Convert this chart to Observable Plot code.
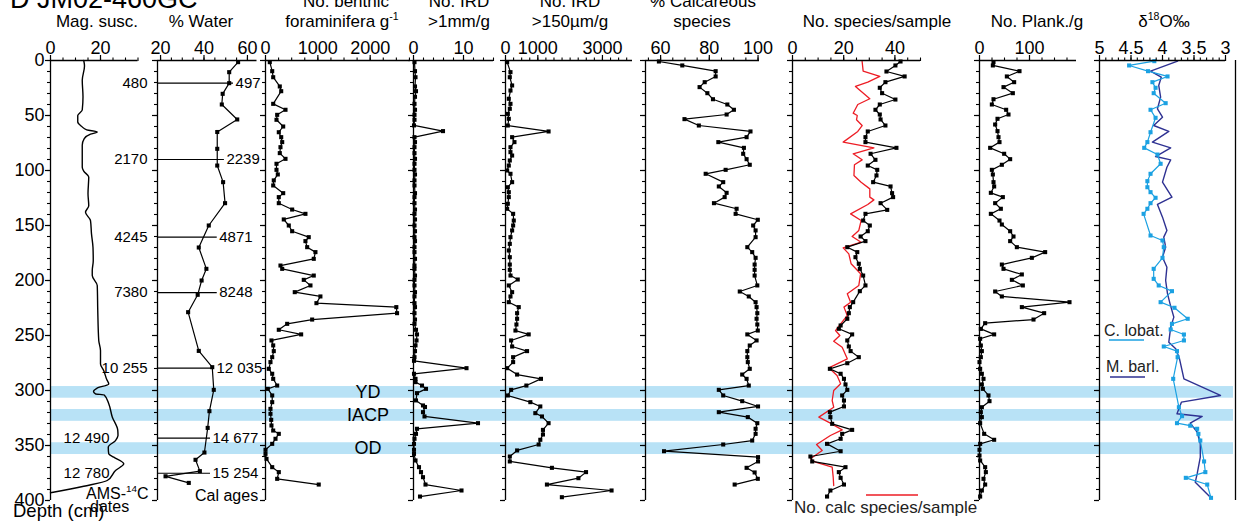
<!DOCTYPE html>
<html>
<head>
<meta charset="utf-8">
<script src="https://cdn.jsdelivr.net/npm/d3@7"></script>
<script src="https://cdn.jsdelivr.net/npm/@observablehq/plot@0.6"></script>
<style>
  html, body { margin: 0; padding: 0; background: #fff; }
  #figure { position: relative; width: 1239px; height: 531px; overflow: hidden; }
  #figure > svg { position: absolute; left: 0; top: 0; }
</style>
</head>
<body>
<div id="figure"></div>
<script>
// ---------------- core JM02-460GC down-core records (depth in cm) ----------------
const magDepth = [0, 5, 18, 33, 45, 50, 56, 60, 63, 65, 67, 71, 77, 97, 100.6, 106, 121, 132, 138, 145.5, 157.6, 170, 182, 191, 195.5, 204.5, 227, 254.5, 263.6, 275.8, 282, 290, 294, 298, 301, 303, 304, 312, 324, 336, 341, 345.5, 351.5, 357.6, 360.6, 366.7, 372.7, 381.8, 387, 393];
const magSusc = [13.3, 13.6, 12.7, 13.0, 12.7, 10.9, 10.9, 12.5, 14.5, 18.7, 16.0, 13.5, 12.7, 12.7, 13.3, 15.3, 15.0, 15.3, 14.0, 16.0, 16.4, 17.0, 17.1, 16.7, 16.7, 18.7, 18.9, 19.3, 20.0, 20.0, 21.3, 22.5, 23.3, 18.5, 17.2, 18.0, 21.5, 23.3, 24.7, 26.9, 27.0, 26.0, 23.1, 23.3, 25.3, 29.3, 26.0, 22.7, 13.3, 0];

const waterDepth = [1.5, 10.6, 20.6, 30.3, 40, 53.6, 65, 80.3, 95.5, 110.6, 129.7, 150, 170, 189.4, 200, 213, 228.8, 264, 278.8, 299.4, 318.8, 334, 356.4, 363, 373.3, 378, 384];
const waterPct = [55.7, 51.6, 51.6, 48.6, 48.2, 55.3, 46.1, 46.1, 46.1, 48.8, 49.7, 42.2, 37.6, 41.1, 38.9, 37.1, 32.7, 37.6, 43.8, 44.5, 42.5, 41.7, 40.2, 36.1, 38.1, 22.3, 33.0];

const benthicDepth = [1.5, 9.7, 15.2, 23.6, 27.9, 39.4, 44.8, 49.4, 53.9, 60, 65.2, 69.7, 74.2, 78.8, 84.2, 89.4, 93.9, 99.4, 103.6, 109, 113.6, 120.6, 124.2, 129.7, 135.5, 139.4, 144.5, 150, 155.2, 160.6, 164.2, 169.7, 174.2, 180.3, 186.4, 189.4, 195.5, 199.4, 204.5, 210.6, 214.5, 220.6, 224.2, 229.7, 235.5, 239.4, 244.8, 249, 254.5, 259, 264.2, 269.7, 274.2, 280.3, 284.8, 289.4, 295.5, 298.5, 304.5, 310.6, 316.7, 321.2, 326.7, 331.8, 336.4, 339.4, 343.9, 348.5, 353.9, 357.6, 362.1, 369.7, 374.2, 380.3, 385.5];
const benthicPerG = [82, 128, 147, 273, 300, 147, 382, 223, 210, 338, 254, 300, 319, 286, 273, 382, 210, 210, 235, 158, 147, 338, 254, 254, 509, 763, 349, 445, 509, 826, 763, 796, 954, 922, 286, 319, 922, 731, 859, 559, 1049, 973, 2499, 2513, 891, 414, 254, 681, 114, 147, 158, 128, 95, 63, 128, 147, 223, 44, 128, 128, 95, 95, 109, 114, 147, 254, 191, 128, 0, 0, 19, 128, 254, 223, 1017];

const ird1Depth = [1.5, 9.7, 15.2, 23.6, 27.9, 33, 39.4, 44.8, 49.4, 53.9, 59, 64.2, 69.7, 74.2, 78.8, 84.2, 89.4, 93.9, 99.4, 103.6, 109, 113.6, 120.6, 124.2, 129.7, 135.5, 139.4, 144.5, 150, 155.2, 160.6, 164.2, 169.7, 174.2, 180.3, 186.4, 189.4, 195.5, 199.4, 204.5, 210.6, 214.5, 220.6, 224.2, 229.7, 235.5, 239.4, 244.8, 249, 254.5, 259, 264.2, 269.7, 273, 279.7, 284.8, 289.4, 292.4, 295.5, 298.5, 302.4, 309, 313.6, 315, 319.7, 323.6, 329.7, 334.8, 339.4, 343.9, 348.5, 353.9, 357.6, 363.6, 369.7, 374.2, 378.8, 385.5, 390.9, 396.4];
const ird1PerG = [0.2, 0.3, 0.4, 0.3, 0.5, 0.3, 0.2, 0.3, 0.2, 0.2, 0.1, 5.9, 0.2, 0.3, 0.2, 0.2, 0.3, 0.2, 0.2, 0.3, 0.2, 0.2, 0.3, 0.2, 0.2, 0.3, 0.2, 0.3, 0.2, 0.3, 0.2, 0.3, 0.2, 0.2, 0.3, 0.2, 0.2, 0.3, 0.2, 0.2, 0.3, 0.2, 0.2, 0.3, 0.2, 0.3, 0.2, 0.5, 0.7, 0.6, 0.4, 0.3, 0.2, 0.1, 10.6, 0.1, 0.4, 0.4, 1.7, 2.5, 0.7, 0.5, 1.9, 2.3, 1.9, 2.2, 12.9, 0.7, 0.5, 0.2, 0.1, 0.1, 0.1, 0.4, 1.1, 1.5, 1.9, 2.4, 9.6, 1.3];

const ird150Depth = [1.5, 10.6, 15.2, 22.7, 27.3, 34.8, 39.4, 43.9, 48.5, 53, 59.1, 64.5, 69.7, 74.2, 78.8, 83.3, 86.4, 90.9, 95.5, 100, 103, 110.6, 115.2, 119.7, 124.2, 130.3, 134.8, 139.4, 145.5, 150, 154.5, 160.6, 166.7, 172.7, 178.8, 185.5, 190.3, 195.5, 199.1, 204.5, 210.6, 214.5, 219.7, 224.2, 229.7, 234.8, 240, 245.5, 249, 254.5, 260, 264.2, 269.7, 274.2, 279.7, 285.5, 289.4, 295.5, 299.4, 304.5, 310.6, 314.5, 320.6, 323.6, 329.7, 335.8, 340, 344.8, 349.1, 354.5, 360, 364.5, 370.3, 374.2, 379.7, 385.5, 390.9, 397];
const ird150PerG = [51, 154, 133, 205, 154, 102, 154, 133, 72, 102, 72, 1333, 205, 277, 154, 154, 205, 133, 102, 51, 154, 205, 72, 102, 102, 72, 51, 236, 256, 236, 205, 154, 133, 102, 133, 133, 133, 154, 379, 102, 205, 154, 102, 410, 359, 359, 338, 308, 718, 174, 205, 667, 236, 236, 51, 359, 1097, 646, 174, 72, 769, 1077, 923, 1128, 1333, 1159, 1159, 1077, 1026, 359, 133, 133, 1436, 2492, 2256, 1282, 3282, 1744];

const calcDepth = [0.9, 4.5, 9.7, 14.5, 19.7, 24.2, 29.7, 35.2, 40, 44.8, 49.1, 53.3, 59.1, 64.5, 69.7, 74.2, 79.4, 84.8, 89.7, 94.8, 99.4, 103, 110.6, 114.5, 120.3, 124.2, 129.7, 134.8, 139.4, 144.8, 150, 154.5, 160.6, 169.7, 174.2, 179.4, 185.5, 190.3, 195.5, 204.5, 210, 214.5, 219.7, 224.2, 229.7, 234.8, 240, 245.5, 249, 254.5, 259.1, 264.2, 269.7, 274.2, 280.3, 285.5, 289.4, 295.5, 299.4, 304.5, 309.7, 314.5, 319.7, 324.2, 329.7, 334.8, 339.4, 345.5, 349.1, 355.2, 360.6, 364.5, 370.3, 374.5, 380.3, 385.5];
const calcPct = [59.3, 68.9, 82.6, 82.6, 78.1, 76.0, 79.2, 81.5, 87.4, 90.1, 87.1, 69.8, 75.7, 96.9, 95.3, 83.7, 94.2, 93.9, 95.3, 96.6, 86.7, 78.5, 85.7, 83.9, 87.1, 86.3, 81.9, 91.2, 90.8, 99.9, 98.0, 99.0, 99.0, 95.6, 97.6, 99.0, 98.6, 98.6, 98.6, 99.7, 92.5, 96.2, 99.0, 99.4, 99.7, 99.4, 99.7, 99.9, 95.6, 99.4, 96.6, 95.6, 95.6, 95.8, 96.6, 93.5, 95.3, 96.2, 83.9, 85.7, 93.5, 100, 83.9, 95.8, 99.7, 99.0, 99.0, 97.6, 85.7, 61.4, 100, 100, 95.3, 98.6, 99.9, 90.4];

const speciesDepth = [0.9, 4.5, 10, 14.5, 19.7, 24.8, 29.7, 35.5, 40, 44.8, 49.1, 53.6, 59.1, 64.5, 69.7, 74.2, 79.4, 84.8, 90.3, 95.5, 99.4, 104.5, 110.6, 114.5, 120.6, 124.2, 129.7, 135.8, 139.4, 145.5, 150, 155.2, 160, 164.2, 169.7, 174.2, 178.8, 184.8, 189.4, 195.5, 204.5, 209.7, 219.7, 224.2, 229.7, 234.8, 240.9, 243.9, 249, 254.5, 260, 264.2, 269.7, 275.2, 280.3, 284.8, 289.4, 294.5, 299.4, 304.5, 309.1, 314.5, 319.7, 324.2, 330.3, 335.8, 339.4, 343.9, 348.5, 355.2, 360, 364.5, 369.7, 374.2, 379.4, 385.5, 390.9, 396.4];
const speciesCount = [42.2, 40.2, 36.7, 43.8, 36.3, 34.1, 35.0, 40.2, 34.1, 32.4, 34.1, 34.4, 36.3, 29.4, 28.5, 28.5, 40.6, 30.5, 32.4, 29.4, 33.1, 32.8, 31.5, 38.3, 38.9, 39.3, 34.4, 37.0, 28.5, 27.6, 30.2, 29.4, 26.6, 28.5, 21.4, 25.3, 24.6, 25.9, 26.3, 27.6, 28.5, 26.3, 23.7, 22.4, 22.0, 21.4, 18.8, 18.1, 23.3, 21.4, 22.0, 22.7, 25.9, 21.4, 14.6, 18.8, 20.1, 20.7, 21.4, 19.4, 20.1, 20.1, 14.6, 14.8, 15.5, 23.3, 19.4, 18.8, 13.5, 18.8, 7.0, 7.7, 20.7, 18.1, 18.8, 20.1, 14.8, 13.5];

const calcSpDepth = [0.9, 9.7, 14.5, 19.7, 23.6, 34.8, 40, 47.9, 50, 53.9, 59.1, 64.5, 74.2, 79.4, 84.8, 90.3, 94.8, 104.5, 110.6, 116.7, 124.2, 126.7, 130.9, 139.4, 145.5, 154.5, 160, 165.2, 170.3, 175.8, 184.8, 193.9, 204.5, 212.1, 219.7, 224.2, 231.8, 239.4, 245.5, 250, 255.2, 260.6, 271.2, 279.4, 286.4, 293.9, 300, 309.1, 315.2, 324.2, 329.7, 335.8, 340.9, 349.1, 354.5, 362.1, 365.2, 369.7, 378.8, 386.4];
const calcSpCount = [27.2, 27.6, 34.1, 29.4, 24.6, 30.2, 25.5, 23.7, 25.3, 25.0, 27.2, 25.5, 19.8, 31.8, 23.7, 27.2, 24.2, 24.0, 26.8, 30.2, 30.2, 31.8, 29.4, 22.7, 26.8, 25.9, 23.3, 26.8, 19.8, 22.0, 22.9, 26.6, 25.9, 21.4, 22.7, 20.1, 21.4, 18.8, 16.8, 18.5, 16.1, 19.4, 21.4, 14.2, 17.4, 18.8, 16.1, 15.5, 16.1, 10.3, 14.8, 19.4, 14.8, 9.4, 11.6, 7.0, 9.0, 15.5, 15.9, 16.1];

const plankDepth = [1.5, 4.5, 9.7, 14.5, 19.7, 24.2, 29.7, 35.2, 40, 44.8, 49.1, 53, 58.2, 64.2, 69.7, 74.2, 79.4, 84.8, 89.7, 94.8, 99.4, 103.6, 110.6, 114.5, 120.3, 124.2, 129.7, 134.8, 139.4, 145.5, 149.1, 155.2, 160, 164.2, 169.7, 174.2, 179.4, 185.5, 189.4, 194.5, 199.4, 204.5, 210, 214.5, 219.7, 224.2, 229.7, 235.5, 238.8, 244, 249, 253, 259.1, 264.2, 269.7, 274.2, 280.3, 284.8, 289.4, 294.5, 298.5, 304.5, 309.7, 315.2, 319.7, 324.2, 329.7, 339.4, 344.8, 348.5, 353.9, 359.1, 363.6, 369.7, 374.2, 380.3, 385.5, 390.9, 396.4];
const plankPerG = [28, 26.7, 80, 54.7, 69.3, 48, 66.7, 28, 24.7, 53.3, 58, 36, 31.3, 36, 38, 40, 21.3, 49.3, 61.3, 44.7, 24.7, 26.7, 28, 29.3, 22.7, 46.7, 31.3, 42.7, 22.7, 40, 44.7, 61.3, 68, 61.3, 74.7, 131.3, 104.7, 44.7, 48, 84.7, 64.7, 86.7, 31.3, 44.7, 180, 84.7, 129.3, 108, 11.3, 2.7, 29.3, 1.3, 2.7, 4.7, 2.7, 0, 1.3, 4.7, 8, 4.7, 6.7, 18, 20, 4.7, 2.7, 4.7, 1.3, 9.3, 29.3, 1.3, 0, 0, 1.3, 11.3, 12.7, 8, 11.3, 4.7, 1.3];

const lobatDepth = [0.6, 4.5, 9.7, 14.5, 19.7, 24.8, 29.7, 38.8, 44.8, 52.1, 65.2, 74.2, 79.4, 85.5, 93.9, 103, 109.7, 115.2, 119.7, 124.8, 129.7, 134.8, 139.4, 159.1, 163.6, 169.7, 179.4, 189.4, 198.5, 204.5, 209.7, 219.7, 224.8, 234.8, 239.4, 244.5, 249.1, 254.5, 260, 264.2, 269.7, 289.4, 315.2, 323.3, 329.7, 332, 334.8, 339.4, 345.5, 364.5, 374.2, 379.4, 385.5, 397.6];
const lobatD18O = [4.13, 4.53, 4.23, 3.92, 4.16, 4.11, 4.14, 3.95, 4.19, 4.11, 4.19, 4.24, 4.29, 4.08, 4.03, 4.19, 4.24, 4.24, 4.19, 4.11, 4.19, 4.24, 4.30, 4.19, 4.00, 3.98, 4.00, 4.14, 4.14, 4.06, 3.85, 4.03, 3.81, 3.60, 3.85, 3.87, 3.66, 3.66, 3.98, 3.77, 3.76, 3.83, 3.74, 3.69, 3.77, 3.56, 3.45, 3.43, 3.40, 3.34, 3.32, 3.63, 3.29, 3.23];

const barlDepth = [0.6, 9.7, 15.2, 22.7, 33.3, 43.9, 51.5, 59.1, 64.5, 74.2, 79.4, 87.3, 90.3, 97, 110.6, 124.2, 130.9, 142.4, 154.5, 160.6, 169.7, 178.8, 187.9, 200, 212.1, 221.2, 233.3, 242.4, 256.1, 262.1, 271.2, 289.4, 304.5, 310.6, 321.2, 323.6, 329.7, 337.9, 348.5, 360.6, 375.8, 383.3, 397];
const barlD18O = [3.76, 4.19, 4.02, 4.06, 4.03, 4.08, 4.00, 4.14, 3.90, 4.16, 3.87, 4.11, 3.87, 3.93, 4.00, 3.85, 4.08, 4.00, 3.93, 3.98, 3.95, 4.00, 3.93, 3.95, 3.92, 3.88, 3.82, 3.87, 3.90, 3.79, 3.73, 3.66, 3.08, 3.70, 3.77, 3.37, 3.56, 3.45, 3.40, 3.40, 3.45, 3.48, 3.24];

// radiocarbon dates and their calibrated ages
const dateDepth = [20.6, 90, 160.6, 211, 279.7, 343.3, 375.2];
const amsAge = ["480", "2170", "4245", "7380", "10 255", "12 490", "12 780"];
const calAge = ["497", "2239", "4871", "8248", "12 035", "14 677", "15 254"];

// cold events
const eventName = ["YD", "IACP", "OD"];
const eventTop = [296.4, 317.3, 347.5];
const eventBottom = [307, 328, 358.2];

// ---------------- layout ----------------
const W = 1239, H = 531, TOP = 60, BOTTOM = 500;
const FONT = '"Liberation Sans", Arial, Helvetica, sans-serif';
const BAND = "#b8e2f6", RED = "#ed1c24", CYAN = "#1ba1e2", NAVY = "#2e3192";
const depthMajor = d3.range(0, 401, 50);
const depthMinor = d3.range(0, 401, 10);
const leaderEnd = [53.6, 49.4, 46.1, 46.1, 44.8, 43.0, 43.0]; // % water units where each leader stops

const table = (depth, value) => depth.map((d, i) => ({depth: d, value: value[i]}));
const mag = table(magDepth, magSusc);
const water = table(waterDepth, waterPct);
const benthic = table(benthicDepth, benthicPerG);
const ird1 = table(ird1Depth, ird1PerG);
const ird150 = table(ird150Depth, ird150PerG);
const calc = table(calcDepth, calcPct);
const species = table(speciesDepth, speciesCount);
const calcSpecies = table(calcSpDepth, calcSpCount);
const plank = table(plankDepth, plankPerG);
const lobat = table(lobatDepth, lobatD18O);
const barl = table(barlDepth, barlD18O);
const dates = dateDepth.map((d, i) => ({depth: d, ams: amsAge[i], cal: calAge[i], end: leaderEnd[i]}));
const events = eventName.map((n, i) => ({name: n, top: eventTop[i], bottom: eventBottom[i]}));

const fig = document.getElementById("figure");

function panel(cfg, marks, yLabels = false) {
  return Plot.plot({
    width: W, height: H,
    marginLeft: cfg.left, marginRight: W - cfg.right, marginTop: TOP, marginBottom: H - BOTTOM,
    style: {background: "transparent", overflow: "visible", fontFamily: FONT, color: "#000"},
    x: {domain: cfg.domain, axis: null},
    y: {domain: [0, 400], reverse: true, axis: null},
    marks: [
      ...marks,
      Plot.axisX(cfg.minor, {anchor: "top", tickSize: 3.5, strokeWidth: 1.1, tickFormat: () => "", label: null}),
      Plot.axisX(cfg.major, {anchor: "top", tickSize: 6, tickPadding: 1, strokeWidth: 1.2, fontSize: 18, tickFormat: String, label: null}),
      Plot.axisY(depthMinor, {anchor: "left", tickSize: 3, strokeWidth: 1.1, tickFormat: () => "", label: null}),
      Plot.axisY(depthMajor, {anchor: "left", tickSize: 5, tickPadding: 1, strokeWidth: 1.2, fontSize: 18, tickFormat: yLabels ? String : () => "", label: null}),
      Plot.ruleY([0], {strokeWidth: 1.3}),
      Plot.ruleX([cfg.domain[0]], {strokeWidth: 1.3})
    ]
  });
}

const lineDots = (data, color = "black") => [
  Plot.line(data, {x: "value", y: "depth", stroke: color, strokeWidth: 1.2}),
  Plot.dot(data, {x: "value", y: "depth", symbol: "square", r: 2.3, fill: color, stroke: "none"})
];

// cold-event bands behind every panel
const bandPlot = Plot.plot({
  width: W, height: H, marginLeft: 50, marginRight: W - 1233, marginTop: TOP, marginBottom: H - BOTTOM,
  style: {background: "transparent", overflow: "visible"},
  y: {domain: [0, 400], reverse: true, axis: null},
  marks: [Plot.rect(events, {y1: "top", y2: "bottom", fill: BAND})]
});
fig.append(bandPlot);

const waterCfg = {left: 157, right: 256.5, domain: [18.6, 64.4], major: [20, 40, 60], minor: d3.range(20, 61, 5)};

const plots = [
  panel({left: 50, right: 137.5, domain: [0, 35], major: [0, 20], minor: d3.range(0, 36, 5)},
    [Plot.line(mag, {x: "value", y: "depth", curve: "monotone-y", stroke: "black", strokeWidth: 1.4})], true),
  panel(waterCfg, [
    Plot.ruleY(dates, {y: "depth", x1: waterCfg.domain[0], x2: "end", stroke: "black", strokeWidth: 1.1}),
    ...lineDots(water),
    Plot.text(dates, {y: "depth", x: "end", text: "cal", textAnchor: "start", dx: 2, fontSize: 15}),
    Plot.text(dates.slice(0, 5), {y: "depth", x: waterCfg.domain[0], text: "ams", textAnchor: "end", dx: -10, fontSize: 15}),
    Plot.text(dates.slice(5), {y: "depth", x: waterCfg.domain[0], text: "ams", textAnchor: "end", dx: -48, fontSize: 15})
  ]),
  panel({left: 265, right: 410, domain: [0, 2770], major: [0, 1000, 2000], minor: d3.range(0, 2770, 250)}, lineDots(benthic)),
  panel({left: 413, right: 493, domain: [0, 16], major: [0, 10], minor: d3.range(0, 17, 2)}, lineDots(ird1)),
  panel({left: 505, right: 632, domain: [0, 3930], major: [0, 1000, 3000], minor: d3.range(0, 3930, 250)}, lineDots(ird150)),
  panel({left: 645, right: 759, domain: [53.8, 100.6], major: [60, 80, 100], minor: d3.range(55, 101, 5)}, lineDots(calc)),
  panel({left: 792, right: 920, domain: [0, 50], major: [0, 20, 40], minor: d3.range(0, 51, 5)}, [
    Plot.line(calcSpecies, {x: "value", y: "depth", stroke: RED, strokeWidth: 1.3}),
    ...lineDots(species)
  ]),
  panel({left: 979, right: 1076, domain: [0, 194], major: [0, 100], minor: d3.range(0, 194, 25)}, lineDots(plank)),
  panel({left: 1099, right: 1225, domain: [5, 3], major: [5, 4.5, 4, 3.5, 3], minor: d3.range(30, 51).map(d => d / 10)}, [
    Plot.line(barl, {x: "value", y: "depth", stroke: NAVY, strokeWidth: 1.4}),
    ...lineDots(lobat, CYAN),
    Plot.ruleX([3], {dx: 10, strokeWidth: 1.3})
  ])
];
plots.forEach(p => fig.append(p));

// ---------------- titles, labels and legends ----------------
const yDepth = bandPlot.scale("y");
const svg = d3.create("svg").attr("width", W).attr("height", H)
  .attr("font-family", FONT).style("overflow", "visible");

function label(x, y, parts, size = 17, anchor = "middle", fill = "#000") {
  const t = svg.append("text").attr("x", x).attr("y", y).attr("font-size", size)
    .attr("text-anchor", anchor).attr("fill", fill);
  const shift = size * 0.42;
  let raised = false;
  for (const p of parts) {
    if (typeof p === "string") {
      const s = t.append("tspan").text(p);
      if (raised) { s.attr("dy", shift); raised = false; }
    } else {
      t.append("tspan").text(p.sup).attr("font-size", size * 0.62).attr("dy", -shift);
      raised = true;
    }
  }
  return t;
}

label(10, 8, ["D JM02-460GC"], 27, "start");
label(97, 27, ["Mag. susc."]);
label(201, 27, ["% Water"]);
label(346, 7, ["No. benthic"]);
label(342, 27, ["foraminifera g", {sup: "-1"}]);
label(459, 7, ["No. IRD"]);
label(459, 27, [">1mm/g"]);
label(570, 7, ["No. IRD"]);
label(570, 27, [">150µm/g"]);
label(703, 7, ["% Calcareous"]);
label(702, 27, ["species"]);
label(877, 27, ["No. species/sample"]);
label(1037, 27, ["No. Plank./g"]);
label(1164, 27, ["δ", {sup: "18"}, "O‰"]);

label(86, 499, ["AMS-", {sup: "14"}, "C"], 16, "start");
label(90, 512, ["dates"], 16, "start");
label(195, 501, ["Cal ages"], 16, "start");
label(13, 517, ["Depth (cm)"], 18.5, "start");

for (const e of events) {
  label(368, yDepth.apply((e.top + e.bottom) / 2), [e.name], 18).attr("dominant-baseline", "central");
}

// species legend
svg.append("line").attr("x1", 866).attr("x2", 918).attr("y1", 495).attr("y2", 495)
  .attr("stroke", RED).attr("stroke-width", 1.6);
label(794, 513, ["No. calc species/sample"], 17, "start", "#222");

// isotope legend
label(1104, 336, ["C. lobat."], 16, "start", "#222");
svg.append("line").attr("x1", 1109).attr("x2", 1144).attr("y1", 340).attr("y2", 340)
  .attr("stroke", CYAN).attr("stroke-width", 1.6);
label(1106, 371.5, ["M. barl."], 16, "start", "#222");
svg.append("line").attr("x1", 1110).attr("x2", 1145).attr("y1", 377).attr("y2", 377)
  .attr("stroke", NAVY).attr("stroke-width", 1.6);

fig.append(svg.node());
</script>
</body>
</html>
